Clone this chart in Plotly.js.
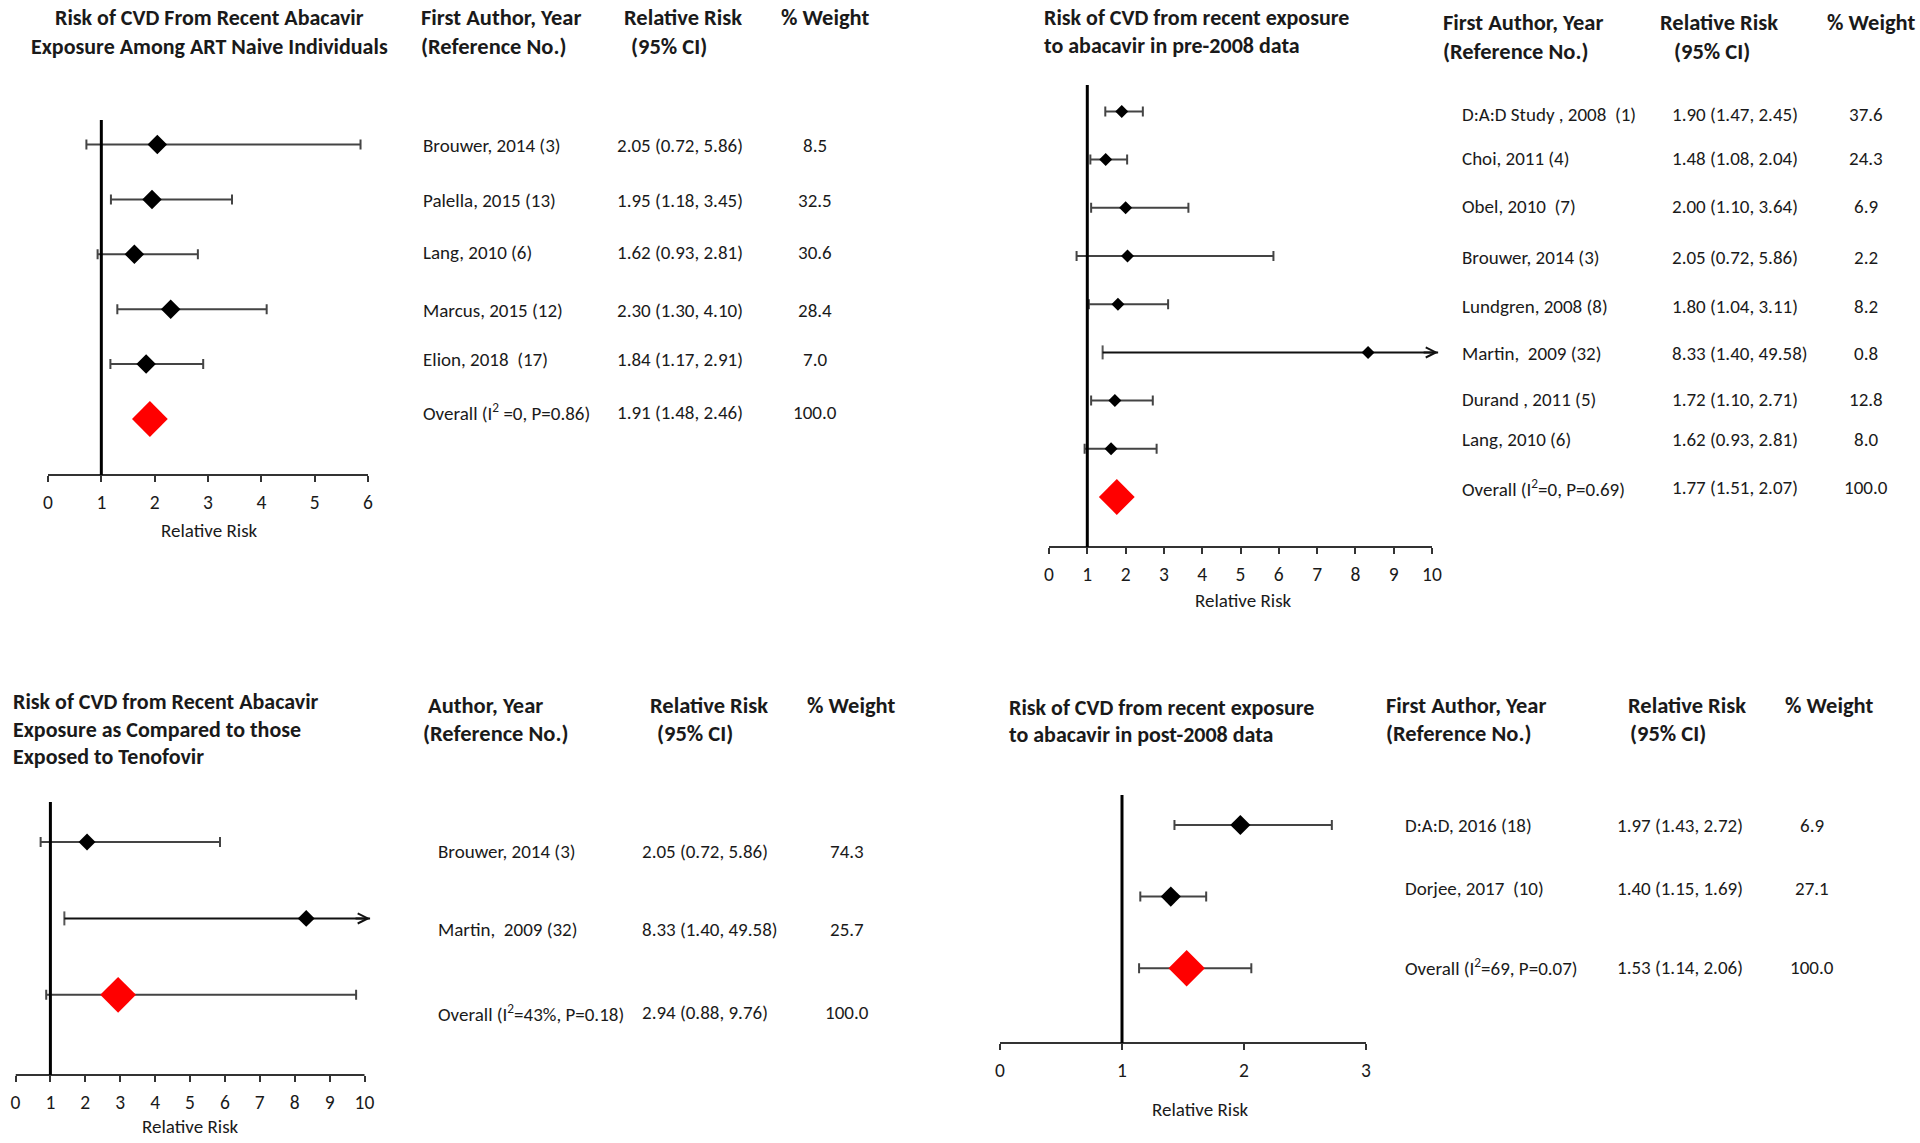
<!DOCTYPE html>
<html><head><meta charset="utf-8">
<script src="https://cdn.plot.ly/plotly-3.0.1.min.js"></script>
<style>html,body{margin:0;padding:0;background:#fff;}</style>
</head><body><div id="chart" style="width:1920px;height:1143px;"></div>
<script>
// ---------- DATA ----------
// Panel 1: ART naive individuals
const p1Studies = ["Brouwer, 2014 (3)", "Palella, 2015 (13)", "Lang, 2010 (6)", "Marcus, 2015 (12)", "Elion, 2018\u00a0\u00a0(17)"];
const p1RR      = [2.05, 1.95, 1.62, 2.30, 1.84];
const p1Lower   = [0.72, 1.18, 0.93, 1.30, 1.17];
const p1Upper   = [5.86, 3.45, 2.81, 4.10, 2.91];
const p1Weight  = ["8.5", "32.5", "30.6", "28.4", "7.0"];
const p1Overall = ["Overall (I<sup>2</sup> =0, P=0.86)", 1.91, 1.48, 2.46, "100.0"];

// Panel 2: pre-2008 data
const p2Studies = ["D:A:D Study , 2008\u00a0\u00a0(1)", "Choi, 2011 (4)", "Obel, 2010\u00a0\u00a0(7)", "Brouwer, 2014 (3)", "Lundgren, 2008 (8)", "Martin,\u00a0\u00a02009 (32)", "Durand , 2011 (5)", "Lang, 2010 (6)"];
const p2RR      = [1.90, 1.48, 2.00, 2.05, 1.80, 8.33, 1.72, 1.62];
const p2Lower   = [1.47, 1.08, 1.10, 0.72, 1.04, 1.40, 1.10, 0.93];
const p2Upper   = [2.45, 2.04, 3.64, 5.86, 3.11, 49.58, 2.71, 2.81];
const p2Weight  = ["37.6", "24.3", "6.9", "2.2", "8.2", "0.8", "12.8", "8.0"];
const p2Overall = ["Overall (I<sup>2</sup>=0, P=0.69)", 1.77, 1.51, 2.07, "100.0"];

// Panel 3: abacavir vs tenofovir
const p3Studies = ["Brouwer, 2014 (3)", "Martin,\u00a0\u00a02009 (32)"];
const p3RR      = [2.05, 8.33];
const p3Lower   = [0.72, 1.40];
const p3Upper   = [5.86, 49.58];
const p3Weight  = ["74.3", "25.7"];
const p3Overall = ["Overall (I<sup>2</sup>=43%, P=0.18)", 2.94, 0.88, 9.76, "100.0"];

// Panel 4: post-2008 data
const p4Studies = ["D:A:D, 2016 (18)", "Dorjee, 2017\u00a0\u00a0(10)"];
const p4RR      = [1.97, 1.40];
const p4Lower   = [1.43, 1.15];
const p4Upper   = [2.72, 1.69];
const p4Weight  = ["6.9", "27.1"];
const p4Overall = ["Overall (I<sup>2</sup>=69, P=0.07)", 1.53, 1.14, 2.06, "100.0"];

// Tick values for each axis
const p1Ticks = [0, 1, 2, 3, 4, 5, 6];
const p2Ticks = [0, 1, 2, 3, 4, 5, 6, 7, 8, 9, 10];
const p3Ticks = [0, 1, 2, 3, 4, 5, 6, 7, 8, 9, 10];
const p4Ticks = [0, 1, 2, 3];
const nullRR = 1;

// Titles and headers
const p1Title = ["Risk of CVD From Recent Abacavir", "Exposure Among ART Naive Individuals"];
const p2Title = ["Risk of CVD from recent exposure", "to abacavir in pre-2008 data"];
const p3Title = ["Risk of CVD from Recent Abacavir", "Exposure as Compared to those", "Exposed to Tenofovir"];
const p4Title = ["Risk of CVD from recent exposure", "to abacavir in post-2008 data"];
const hdrAuthorFirst = ["First Author, Year", "(Reference No.)"];
const hdrAuthor = ["Author, Year", "(Reference No.)"];
const hdrRR = ["Relative Risk", "(95% CI)"];
const hdrWeight = "% Weight";
const axisTitle = "Relative Risk";

// ---------- LAYOUT GEOMETRY (pixels) ----------
const W = 1920, H = 1143;
const px = x => x / W, py = y => 1 - y / H;
const FONT = "Carlito, Calibri, 'Liberation Sans Narrow', 'Open Sans', sans-serif";
const TXT = '#1a1a1a';
const AX = '#333';
const ERR = '#444';
const BODY = 19, BOLD = 22.5, TITLE = 22;

const panels = [
  { studies: p1Studies, rr: p1RR, lo: p1Lower, hi: p1Upper, w: p1Weight, ov: p1Overall, ticks: p1Ticks, ovCI: false,
    xPx: [48, 368], top: 120, bot: 475, first: 144.5, step: 54.9, mk: 15, ovMk: 27.5,
    nameX: 421, rrX: 615, wX: 815, shift: [-1, -1, 2, -1, 5, 7], axT: [209, 530],
    title: p1Title, titleX: 209, titleAnchor: 'center', titleY: [18, 47],
    hdr: hdrAuthorFirst, hdrX: [419, 419], rrHX: [622, 629], wHX: 779, hdrY: [18, 47] },
  { studies: p2Studies, rr: p2RR, lo: p2Lower, hi: p2Upper, w: p2Weight, ov: p2Overall, ticks: p2Ticks, ovCI: false,
    xPx: [1049, 1432], top: 85, bot: 547, first: 111.4, step: 48.2, mk: 10, ovMk: 27.5,
    nameX: 1460, rrX: 1670, wX: 1866, shift: [-3, 1, 1, -2, -2, -1, 1, 9, 9], axT: [1243, 600],
    title: p2Title, titleX: 1042, titleAnchor: 'left', titleY: [18, 45],
    hdr: hdrAuthorFirst, hdrX: [1441, 1441], rrHX: [1658, 1672], wHX: 1825, hdrY: [23, 52] },
  { studies: p3Studies, rr: p3RR, lo: p3Lower, hi: p3Upper, w: p3Weight, ov: p3Overall, ticks: p3Ticks, ovCI: true,
    xPx: [15.5, 364.5], top: 802, bot: 1075, first: 842, step: 76.4, mk: 13, ovMk: 27.5,
    nameX: 436, rrX: 640, wX: 847, shift: [-9, -11, -18], axT: [190, 1126],
    title: p3Title, titleX: 11, titleAnchor: 'left', titleY: [701, 729, 756],
    hdr: hdrAuthor, hdrX: [426, 421], rrHX: [648, 655], wHX: 805, hdrY: [705, 733] },
  { studies: p4Studies, rr: p4RR, lo: p4Lower, hi: p4Upper, w: p4Weight, ov: p4Overall, ticks: p4Ticks, ovCI: true,
    xPx: [1000, 1366], top: 795, bot: 1043, first: 825, step: 71.6, mk: 15.5, ovMk: 28,
    nameX: 1403, rrX: 1615, wX: 1812, shift: [-1, 8, 1], axT: [1200, 1109],
    title: p4Title, titleX: 1006.5, titleAnchor: 'left', titleY: [707, 734],
    hdr: hdrAuthorFirst, hdrX: [1384, 1384], rrHX: [1626, 1628], wHX: 1783, hdrY: [705, 733] }
];

const traces = [], shapes = [], annotations = [];
const layout = {
  width: W, height: H, margin: { l: 0, r: 0, t: 0, b: 0 },
  paper_bgcolor: '#fff', plot_bgcolor: '#fff', showlegend: false,
  font: { family: FONT, color: TXT, size: BODY }
};

panels.forEach((p, i) => {
  const n = i === 0 ? '' : String(i + 1);
  const xa = 'x' + n, ya = 'y' + n;
  const xmin = p.ticks[0], xmax = p.ticks[p.ticks.length - 1];
  const span = xmax - xmin;
  const arrowEnd = xmax + span * 0.016;
  const rangeMax = xmax + span * 0.03;               // a little room for truncation arrows
  const pxPerUnit = (p.xPx[1] - p.xPx[0]) / span;
  const domEnd = p.xPx[0] + (rangeMax - xmin) * pxPerUnit;
  const nRows = p.studies.length + 1;
  const yRange = [(p.bot - p.first) / p.step, -(p.first - p.top) / p.step];

  layout['xaxis' + n] = {
    domain: [px(p.xPx[0]), px(domEnd)], anchor: ya, range: [xmin, rangeMax],
    tickvals: p.ticks, ticktext: p.ticks.map(String), showgrid: false, zeroline: false,
    showline: false, ticks: 'outside', ticklen: 6, tickwidth: 2, tickcolor: AX,
    ticklabelstandoff: 4, tickfont: { size: 19.5, color: TXT, family: FONT },
    fixedrange: true
  };
  layout['yaxis' + n] = {
    domain: [py(p.bot), py(p.top)], anchor: xa, range: yRange, visible: false, fixedrange: true
  };

  // axis title
  annotations.push({ xref: 'paper', yref: 'paper', x: px(p.axT[0]), y: py(p.axT[1]), xanchor: 'center',
    yanchor: 'middle', text: axisTitle, showarrow: false, font: { size: 19, color: TXT, family: FONT } });

  // axis baseline from first to last tick
  shapes.push({ type: 'line', xref: xa, yref: ya + ' domain', x0: xmin, x1: xmax, y0: 0, y1: 0,
    line: { color: AX, width: 2 } });
  // null line at RR = 1
  shapes.push({ type: 'line', xref: xa, yref: ya + ' domain', x0: nullRR, x1: nullRR, y0: 0, y1: 1,
    line: { color: '#000', width: 3 } });

  const rows = p.studies.map((_, k) => k);
  const normal = rows.filter(k => p.hi[k] <= xmax);
  const trunc = rows.filter(k => p.hi[k] > xmax);

  // studies within range
  traces.push({
    type: 'scatter', mode: 'markers', xaxis: xa, yaxis: ya, hoverinfo: 'skip',
    x: normal.map(k => p.rr[k]), y: normal,
    error_x: { type: 'data', symmetric: false,
      array: normal.map(k => p.hi[k] - p.rr[k]), arrayminus: normal.map(k => p.rr[k] - p.lo[k]),
      color: ERR, thickness: 2, width: 5 },
    marker: { symbol: 'diamond', size: p.mk, color: '#000', line: { width: 0 } }
  });

  // truncated studies (upper CI beyond axis): line with arrow head
  trunc.forEach(k => {
    traces.push({
      type: 'scatter', mode: 'lines+markers', xaxis: xa, yaxis: ya, hoverinfo: 'skip',
      x: [p.lo[k], arrowEnd], y: [k, k],
      line: { color: '#111', width: 2 },
      marker: { symbol: ['line-ns', 'line-ns'], size: [10, 0], color: '#111', line: { color: '#111', width: 2 } }
    });
    annotations.push({ xref: xa, yref: ya, x: arrowEnd, y: k, ax: -16, ay: 0, text: '', showarrow: true,
      arrowhead: 5, arrowsize: 1, arrowwidth: 2, arrowcolor: '#111' });
    traces.push({
      type: 'scatter', mode: 'markers', xaxis: xa, yaxis: ya, hoverinfo: 'skip',
      x: [p.rr[k]], y: [k], marker: { symbol: 'diamond', size: p.mk, color: '#000' }
    });
  });

  // overall estimate
  const ovRow = nRows - 1;
  const ovTrace = {
    type: 'scatter', mode: 'markers', xaxis: xa, yaxis: ya, hoverinfo: 'skip',
    x: [p.ov[1]], y: [ovRow],
    marker: { symbol: 'diamond', size: p.ovMk, color: '#ff0000', line: { width: 0 } }
  };
  if (p.ovCI) {
    ovTrace.error_x = { type: 'data', symmetric: false, array: [p.ov[3] - p.ov[1]], arrayminus: [p.ov[1] - p.ov[2]],
      color: ERR, thickness: 2, width: 5 };
  }
  traces.push(ovTrace);

  // table text
  const fmt = v => v.toFixed(2);
  const cell = (k, x, anchor, text) => annotations.push({ xref: 'paper', yref: ya, x: px(x), y: k,
    yshift: p.shift[k] || 0, xanchor: anchor, yanchor: 'middle', text: text, showarrow: false,
    font: { size: BODY, color: TXT, family: FONT } });
  const rowTxt = (k, name, est, w) => {
    cell(k, p.nameX, 'left', name);
    cell(k, p.rrX, 'left', est);
    cell(k, p.wX, 'center', w);
  };
  rows.forEach(k => rowTxt(k, p.studies[k],
    fmt(p.rr[k]) + ' (' + fmt(p.lo[k]) + ', ' + fmt(p.hi[k]) + ')', p.w[k]));
  rowTxt(ovRow, p.ov[0], fmt(p.ov[1]) + ' (' + fmt(p.ov[2]) + ', ' + fmt(p.ov[3]) + ')', p.ov[4]);

  // panel title
  p.title.forEach((t, j) => annotations.push({ xref: 'paper', yref: 'paper', x: px(p.titleX), y: py(p.titleY[j]),
    xanchor: p.titleAnchor, yanchor: 'middle', text: '<b>' + t + '</b>', showarrow: false,
    font: { size: TITLE, color: TXT, family: FONT } }));
  // headers
  const hdr = (t, x, y) => annotations.push({ xref: 'paper', yref: 'paper', x: px(x), y: py(y), xanchor: 'left',
    yanchor: 'middle', text: '<b>' + t + '</b>', showarrow: false, font: { size: BOLD, color: TXT, family: FONT } });
  hdr(p.hdr[0], p.hdrX[0], p.hdrY[0]);
  hdr(p.hdr[1], p.hdrX[1], p.hdrY[1]);
  hdr(hdrRR[0], p.rrHX[0], p.hdrY[0]);
  hdr(hdrRR[1], p.rrHX[1], p.hdrY[1]);
  hdr(hdrWeight, p.wHX, p.hdrY[0]);
});

layout.shapes = shapes;
layout.annotations = annotations;
Plotly.newPlot('chart', traces, layout, { displayModeBar: false, staticPlot: true });
</script>
</body></html>
